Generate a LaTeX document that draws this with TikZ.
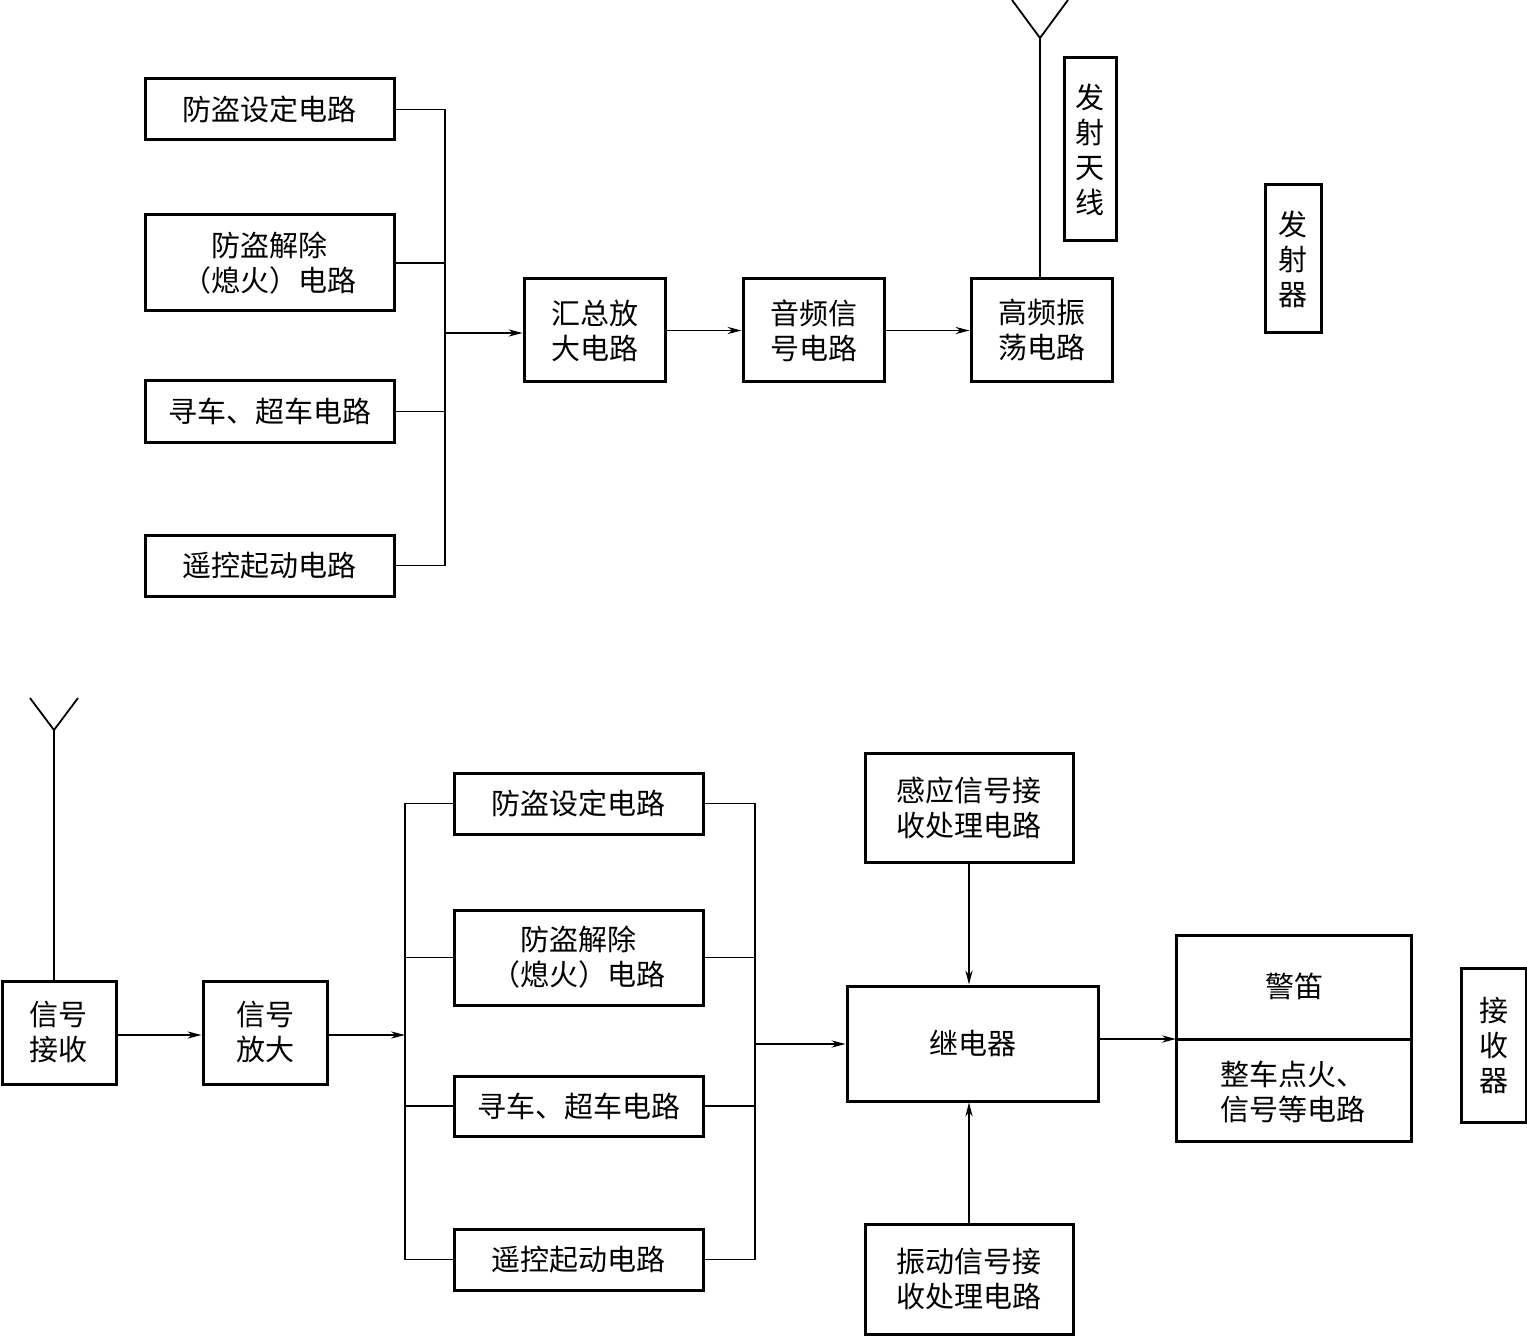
\documentclass[tikz,border=0pt]{standalone}
\usepackage{fontspec}
\setmainfont{Noto Sans CJK SC}
\usetikzlibrary{arrows.meta}
\begin{document}
\begin{tikzpicture}[x=0.5pt,y=-0.5pt,
  box/.style={draw,line width=1.5pt,inner sep=0pt,align=center,font=\fontsize{14.5}{17.5}\selectfont},
  conn/.style={line width=0.7pt},
  arr/.style={conn,-{Stealth[length=7pt,width=3.6pt]}}]
\useasboundingbox (0,0) rectangle (1527,1337);
% ---- transmitter ----
\node[box,minimum width=124.5pt,minimum height=30.5pt] (A1) at (269.5,109.5) {防盗设定电路};
\node[box,minimum width=124.5pt,minimum height=48pt] (A2) at (269.5,263) {防盗解除\\（熄火）电路};
\node[box,minimum width=124.5pt,minimum height=30.5pt] (A3) at (269.5,411.5) {寻车、超车电路};
\node[box,minimum width=124.5pt,minimum height=30.5pt] (A4) at (269.5,565.5) {遥控起动电路};
\node[box,minimum width=70.5pt,minimum height=51.5pt] (B1) at (594.5,330.5) {汇总放\\大电路};
\node[box,minimum width=70.5pt,minimum height=51.5pt] (B2) at (813.5,330.5) {音频信\\号电路};
\node[box,minimum width=70.5pt,minimum height=51.5pt] (B3) at (1041.5,330.5) {高频振\\荡电路};
\node[box,minimum width=26pt,minimum height=91.5pt] (TA) at (1090,149.5) {发\\射\\天\\线};
\node[box,minimum width=28pt,minimum height=74pt] (TX) at (1293,259) {发\\射\\器};
\coordinate (J) at (445,333);
\draw[conn] (A1.east) -| (J);
\draw[conn] (A4.east) -| (J);
\draw[conn] (A2.east) -- (A2.east -| J);
\draw[conn] (A3.east) -- (A3.east -| J);
\draw[arr] (J) -- (J -| B1.west);
\draw[arr] (B1) -- (B2);
\draw[arr] (B2) -- (B3);
\coordinate (ant1) at (1040,38);
\coordinate (ant1l) at (1012,0);
\coordinate (ant1r) at (1068,0);
\draw[conn,line width=0.9pt] (B3.north -| ant1) -- (ant1);
\draw[conn,line width=0.9pt] (ant1l) -- (ant1) -- (ant1r);
% ---- receiver ----
\node[box,minimum width=57pt,minimum height=51.5pt] (C1) at (59,1032.5) {信号\\接收};
\node[box,minimum width=62pt,minimum height=51.5pt] (C2) at (265,1032.5) {信号\\放大};
\coordinate (ant2) at (54,730);
\coordinate (ant2l) at (30,698);
\coordinate (ant2r) at (78,698);
\draw[conn,line width=0.9pt] (C1.north -| ant2) -- (ant2);
\draw[conn,line width=0.9pt] (ant2l) -- (ant2) -- (ant2r);
\node[box,minimum width=124.5pt,minimum height=30.5pt] (D1) at (578.5,803.5) {防盗设定电路};
\node[box,minimum width=124.5pt,minimum height=47.5pt] (D2) at (578.5,957.5) {防盗解除\\（熄火）电路};
\node[box,minimum width=124.5pt,minimum height=30pt] (D3) at (578.5,1106) {寻车、超车电路};
\node[box,minimum width=124.5pt,minimum height=30.5pt] (D4) at (578.5,1259.5) {遥控起动电路};
\coordinate (L) at (405,1035);
\coordinate (R) at (755,1044);
\draw[arr] (C1.east |- L) -- (C2.west |- L);
\draw[arr] (C2.east |- L) -- (L);
\draw[conn] (D1.west) -| (L);
\draw[conn] (D4.west) -| (L);
\draw[conn] (D2.west) -- (D2.west -| L);
\draw[conn] (D3.west) -- (D3.west -| L);
\draw[conn] (D1.east) -| (R);
\draw[conn] (D4.east) -| (R);
\draw[conn] (D2.east) -- (D2.east -| R);
\draw[conn] (D3.east) -- (D3.east -| R);
\node[box,minimum width=125.5pt,minimum height=57.5pt] (K) at (972.5,1043.5) {继电器};
\node[box,minimum width=104pt,minimum height=54.5pt] (E1) at (969,807.5) {感应信号接\\收处理电路};
\node[box,minimum width=104pt,minimum height=55pt] (E2) at (969,1279) {振动信号接\\收处理电路};
\draw[arr] (R) -- (R -| K.west);
\draw[arr] (E1.south) -- (E1.south |- K.north);
\draw[arr] (E2.north) -- (E2.north |- K.south);
\node[draw,line width=1.5pt,inner sep=0pt,minimum width=117.5pt,minimum height=103pt] (F) at (1293.5,1038) {};
\coordinate (Fdiv) at (1176,1039);
\draw[line width=1.5pt] (Fdiv) -- (Fdiv -| F.east);
\node[font=\fontsize{14.5}{17.5}\selectfont] (F1) at (1294,986) {警笛};
\node[font=\fontsize{14.5}{17.5}\selectfont,align=center] (F2) at (1293,1092) {整车点火、\\信号等电路};
\draw[arr] (K.east |- Fdiv) -- (Fdiv);
\node[box,minimum width=32.5pt,minimum height=77pt] (RX) at (1493.5,1045) {接\\收\\器};
\end{tikzpicture}
\end{document}
